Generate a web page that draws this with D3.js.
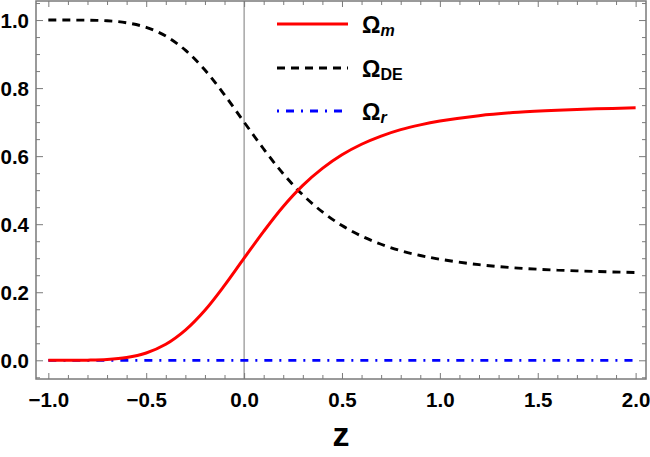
<!DOCTYPE html>
<html><head><meta charset="utf-8">
<script src="https://cdn.jsdelivr.net/npm/d3@7"></script>
<style>body{margin:0;background:#fff}svg{display:block;font-family:"Liberation Sans",Arial,sans-serif}</style>
</head><body><svg id="c" width="650" height="457"></svg>
<script>
const zVals   = [-1,-0.9,-0.8,-0.7,-0.6,-0.5,-0.4,-0.3,-0.2,-0.1,0,0.1,0.2,0.3,0.4,0.5,0.6,0.7,0.8,0.9,1.0,1.2,1.4,1.6,1.8,2.0];
const omegaM  = [0,0,0.0004,0.0022,0.008,0.0215,0.047,0.0886,0.147,0.220,0.300,0.379,0.452,0.514,0.564,0.604,0.635,0.659,0.678,0.692,0.703,0.719,0.729,0.735,0.739,0.742];
const omegaDE = [1,1,0.9996,0.9978,0.992,0.9785,0.953,0.9114,0.853,0.780,0.700,0.621,0.548,0.486,0.436,0.396,0.365,0.341,0.322,0.308,0.297,0.281,0.271,0.265,0.261,0.258];
const omegaR  = zVals.map(() => 0);
const xTicks = [-1.0,-0.5,0.0,0.5,1.0,1.5,2.0];
const yTicks = [0.0,0.2,0.4,0.6,0.8,1.0];

const svg = d3.select("#c");
const L=36,R=646,T=1,B=379;
const x = d3.scaleLinear().domain([-1.063,2.053]).range([L,R]);
const y = d3.scaleLinear().domain([-0.055,1.056]).range([B,T]);
const gray="#7a7a7a";

const xMinor = d3.range(-10,21).map(d=>d/10).filter(d=>!xTicks.some(t=>Math.abs(t-d)<1e-9));
const yMinor = d3.range(-1,22).map(d=>d/20).filter(d=>!yTicks.some(t=>Math.abs(t-d)<1e-9));

function axis(gen, transform, vals, size, labels){
  const g = svg.append("g").attr("transform",transform)
    .call(gen.tickValues(vals).tickSizeInner(size).tickSizeOuter(0).tickPadding(0)
      .tickFormat(labels? d3.format(".1f") : ""));
  g.select(".domain").remove();
  g.selectAll(".tick line").attr("stroke",gray).attr("stroke-width",1);
  return g;
}
const fs = 20.5;
// bottom
const bx = axis(d3.axisBottom(x), `translate(0,${B})`, xTicks, -6, true);
bx.selectAll("text").attr("y",28).attr("dy",0).attr("font-size",fs).attr("font-weight","bold").attr("fill","#000")
  .text(d=>d3.format(".1f")(d).replace("-","\u2212"));
axis(d3.axisBottom(x), `translate(0,${B})`, xMinor, -4, false);
// top
axis(d3.axisTop(x), `translate(0,${T})`, xTicks, -6, false);
axis(d3.axisTop(x), `translate(0,${T})`, xMinor, -4, false);
// left
const ly = axis(d3.axisLeft(y), `translate(${L},0)`, yTicks, -7, true);
ly.selectAll("text").attr("x",-7).attr("dy","0.36em").attr("font-size",fs).attr("font-weight","bold").attr("fill","#000");
axis(d3.axisLeft(y), `translate(${L},0)`, yMinor, -4, false);
// right
axis(d3.axisRight(y), `translate(${R},0)`, yTicks, -7, false);
axis(d3.axisRight(y), `translate(${R},0)`, yMinor, -4, false);

// zero line
svg.append("line").attr("x1",x(0)).attr("x2",x(0)).attr("y1",T).attr("y2",B).attr("stroke",gray).attr("stroke-width",1);

const line = d3.line().x((d,i)=>x(zVals[i])).y(d=>y(d)).curve(d3.curveCatmullRom);
svg.append("path").attr("d",line(omegaR)).attr("fill","none").attr("stroke","#0000ff").attr("stroke-width",2.8).attr("stroke-dasharray","8,7,2,7");
svg.append("path").attr("d",line(omegaDE)).attr("fill","none").attr("stroke","#000").attr("stroke-width",2.9).attr("stroke-dasharray","8,6");
svg.append("path").attr("d",line(omegaM)).attr("fill","none").attr("stroke","#ff0000").attr("stroke-width",3);

// frame
svg.append("rect").attr("x",L).attr("y",T).attr("width",R-L).attr("height",B-T).attr("fill","none").attr("stroke",gray).attr("stroke-width",1.5);

// legend
const leg = [
  {c:"#ff0000",d:null,sub:"m",it:true,y:24},
  {c:"#000",d:"8,6",sub:"DE",it:false,y:68},
  {c:"#0000ff",d:"2,7,8,7",sub:"r",it:true,y:111}
];
leg.forEach(e=>{
  svg.append("line").attr("x1",277).attr("x2",348).attr("y1",e.y).attr("y2",e.y)
    .attr("stroke",e.c).attr("stroke-width",2.9).attr("stroke-dasharray",e.d);
  const t = svg.append("text").attr("x",362).attr("y",e.y+9).attr("font-weight","bold").attr("font-size",23).attr("fill","#000");
  t.append("tspan").text("\u03A9");
  t.append("tspan").attr("dy",3).attr("font-size",16).attr("font-style",e.it?"italic":"normal").text(e.sub);
});

// x label
svg.append("text").attr("x",(L+R)/2).attr("y",446).attr("text-anchor","middle").attr("font-size",34).attr("font-weight","bold").text("z");
</script></body></html>
